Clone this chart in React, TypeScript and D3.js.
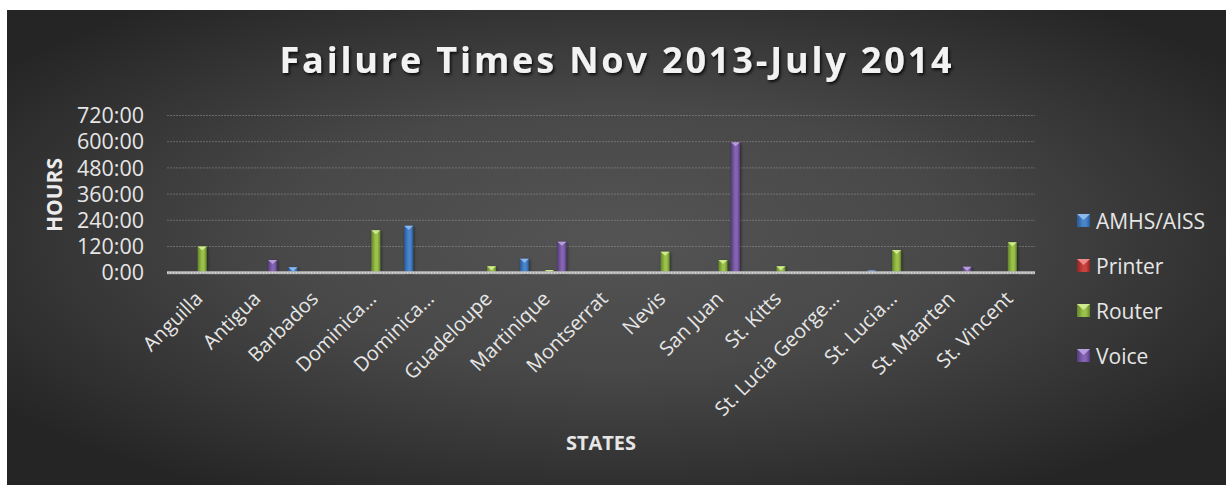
import React from "react";
import * as d3 from "d3";

const categories = [
  "Anguilla", "Antigua", "Barbados", "Dominica…", "Dominica…", "Guadeloupe",
  "Martinique", "Montserrat", "Nevis", "San Juan", "St. Kitts",
  "St. Lucia George…", "St. Lucia…", "St. Maarten", "St. Vincent",
];
const seriesNames = ["AMHS/AISS", "Printer", "Router", "Voice"];
const amhs = [0, 0, 25, 0, 215, 0, 64, 0, 0, 0, 0, 0, 10, 0, 0];
const printer = [0, 0, 0, 0, 0, 0, 0, 0, 0, 0, 0, 0, 0, 0, 0];
const router = [120, 0, 0, 194, 0, 30, 12, 2, 96, 58, 30, 0, 104, 0, 139];
const voice = [0, 58, 0, 0, 0, 0, 142, 0, 0, 597, 0, 0, 0, 27, 0];
const yTickValues = [0, 120, 240, 360, 480, 600, 720];

const seriesValues = [amhs, printer, router, voice];
const colors = ["#4a84c9", "#c9423f", "#9bc14a", "#8463b0"];
const darks = ["#245a9a", "#8e2322", "#62852a", "#553a80"];
const lights = ["#8db8ec", "#ec8a88", "#cfe98f", "#b79ddb"];

const W = 1226;
const H = 485;

export default function App() {
  const x0 = d3.scaleBand<number>().domain(d3.range(categories.length)).range([167, 1035]);
  const x1 = d3.scaleBand<number>().domain(d3.range(seriesNames.length)).range([-25, 25]);
  const y = d3.scaleLinear().domain([0, 720]).range([272.7, 115.5]);
  const barW = 9;

  return (
    <svg
      width={W}
      height={H}
      style={{ position: "fixed", left: 0, top: 0, background: "#fff" }}
      fontFamily="'Open Sans', sans-serif"
    >
      <defs>
        <radialGradient id="bg" cx="0.5" cy="0.48" r="0.62">
          <stop offset="0" stopColor="#545454" />
          <stop offset="0.45" stopColor="#484848" />
          <stop offset="1" stopColor="#252525" />
        </radialGradient>
        {colors.map((c, i) => (
          <linearGradient key={i} id={`bar${i}`} x1="0" x2="1" y1="0" y2="0">
            <stop offset="0" stopColor={darks[i]} />
            <stop offset="0.45" stopColor={c} />
            <stop offset="0.7" stopColor={c} />
            <stop offset="1" stopColor={darks[i]} />
          </linearGradient>
        ))}
        <filter id="tshadow" x="-10%" y="-30%" width="120%" height="160%">
          <feDropShadow dx="1.5" dy="2" stdDeviation="1.5" floodColor="#000" floodOpacity="0.8" />
        </filter>
        <filter id="bshadow" x="-50%" y="-10%" width="200%" height="130%">
          <feDropShadow dx="1" dy="1" stdDeviation="1.5" floodColor="#000" floodOpacity="0.5" />
        </filter>
      </defs>
      <rect x={7} y={10} width={W - 7} height={H - 10} fill="url(#bg)" />

      <text
        x={617}
        y={73}
        textAnchor="middle"
        fill="#f2f2f2"
        fontSize={36}
        fontWeight="bold"
        letterSpacing={2.85}
        filter="url(#tshadow)"
      >
        Failure Times Nov 2013-July 2014
      </text>

      {/* gridlines */}
      {yTickValues.filter((v) => v > 0).map((v) => (
        <line
          key={v}
          x1={167}
          x2={1035}
          y1={y(v)}
          y2={y(v)}
          stroke="#9a9a9a"
          strokeOpacity={0.5}
          strokeWidth={1}
          strokeDasharray="2,1"
        />
      ))}

      {/* y tick labels */}
      {yTickValues.map((v) => (
        <text key={v} x={144} y={y(v)} dy="0.36em" textAnchor="end" fill="#e6e6e6" fontSize={21.5}>
          {`${v}:00`}
        </text>
      ))}

      <text
        transform={`translate(62, 195) rotate(-90)`}
        textAnchor="middle"
        fill="#ececec"
        fontSize={21}
        fontWeight="bold"
      >
        HOURS
      </text>

      {/* bars */}
      {categories.map((cat, ci) =>
        seriesValues.map((vals, si) => {
          const v = vals[ci];
          if (!v) return null;
          const cx = (x0(ci) as number) + x0.bandwidth() / 2 + (x1(si) as number) + x1.bandwidth() / 2;
          const top = y(v);
          const bottom = y(0);
          const xl = cx - barW / 2;
          const capH = Math.min(4, bottom - top);
          return (
            <g key={`${ci}-${si}`}>
              <rect x={xl} y={top} width={barW} height={bottom - top} fill={`url(#bar${si})`} filter="url(#bshadow)" />
              <polygon
                points={`${xl},${top} ${xl + barW},${top} ${cx},${top + capH}`}
                fill={lights[si]}
              />
            </g>
          );
        })
      )}

      {/* baseline */}
      <rect x={167} y={y(0) - 1.5} width={868} height={3} fill="#b5b5b5" />
      <line x1={167} x2={1035} y1={y(0)} y2={y(0)} stroke="#e0e0e0" strokeWidth={1} strokeDasharray="1,2" />

      {/* x labels */}
      {categories.map((cat, ci) => {
        const cx = (x0(ci) as number) + x0.bandwidth() / 2;
        return (
          <text
            key={ci}
            transform={`translate(${cx + 3}, ${295}) rotate(-45)`}
            textAnchor="end"
            dy="0.35em"
            fill="#e6e6e6"
            fontSize={20}
          >
            {cat}
          </text>
        );
      })}

      <text x={601} y={450} textAnchor="middle" fill="#e6e6e6" fontSize={20} fontWeight="bold">
        STATES
      </text>

      {/* legend */}
      {seriesNames.map((s, i) => {
        const ly = 221 + i * 45;
        return (
          <g key={s}>
            <rect x={1077} y={ly - 7} width={13} height={13} fill={`url(#bar${i})`} />
            <polygon points={`${1077},${ly - 7} ${1090},${ly - 7} ${1083.5},${ly - 1}`} fill={lights[i]} />
            <text x={1096} y={ly} dy="0.36em" fill="#e6e6e6" fontSize={21}>
              {s}
            </text>
          </g>
        );
      })}
    </svg>
  );
}
